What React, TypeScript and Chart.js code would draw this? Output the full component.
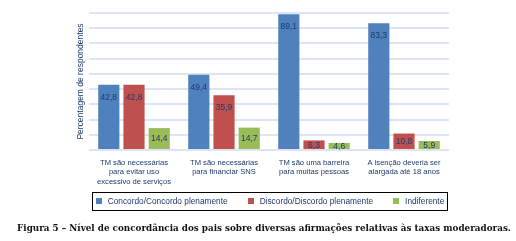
import React, { useEffect, useRef } from "react";
import { Chart, registerables } from "chart.js";

Chart.register(...registerables);

const categories: string[][] = [
  ["TM são necessárias", "para evitar uso", "excessivo de serviços"],
  ["TM são necessárias", "para financiar SNS"],
  ["TM são uma barreira", "para muitas pessoas"],
  ["A isenção deveria ser", "alargada até 18 anos"],
];
const concordo = [42.8, 49.4, 89.1, 83.3];
const discordo = [42.8, 35.9, 6.3, 10.8];
const indiferente = [14.4, 14.7, 4.6, 5.9];
const seriesNames = [
  "Concordo/Concordo plenamente",
  "Discordo/Discordo plenamente",
  "Indiferente",
];
const seriesColors = ["#4f81bd", "#c0504d", "#9bbb59"];
const yTicks = [0, 10, 20, 30, 40, 50, 60, 70, 80, 90];
const yTitle = "Percentagem de respondentes";
const caption =
  "Figura 5 – Nível de concordância dos pais sobre diversas afirmações relativas às taxas moderadoras.";

const NAVY = "#1d3a6c";
const FONT = "Liberation Sans, Arial, sans-serif";

const fmt = (v: number) => v.toFixed(1).replace(".", ",");

const valueLabels = {
  id: "valueLabels",
  afterDatasetsDraw(chart: any) {
    const ctx = chart.ctx;
    ctx.save();
    ctx.font = `8.5px ${FONT}`;
    ctx.fillStyle = NAVY;
    ctx.textAlign = "center";
    ctx.textBaseline = "middle";
    chart.data.datasets.forEach((ds: any, i: number) => {
      const meta = chart.getDatasetMeta(i);
      meta.data.forEach((bar: any, j: number) => {
        const top = bar.y;
        const base = bar.base;
        const y = Math.min(top + 12.5, (top + base) / 2 + 0.5);
        ctx.fillText(fmt(ds.data[j]), bar.x, y);
      });
    });
    ctx.restore();
  },
};

// Boxed legend drawn below the category labels, centred on the plot area
const boxedLegend = {
  id: "boxedLegend",
  afterDraw(chart: any) {
    const ctx = chart.ctx;
    const area = chart.chartArea;
    const fontSize = 8.3;
    const sq = 6;
    const gapText = 6;
    const gapItem = 20;
    ctx.save();
    ctx.font = `${fontSize}px ${FONT}`;
    const widths = seriesNames.map((n) => sq + gapText + ctx.measureText(n).width);
    const total = widths.reduce((a, b) => a + b, 0) + gapItem * (widths.length - 1);
    const cx = (area.left + area.right) / 2 + 1;
    const cy = area.bottom + 51;
    let x = cx - total / 2;
    const boxL = Math.round(x - 4) + 0.5;
    const boxR = Math.round(x + total + 3) + 0.5;
    ctx.strokeStyle = "#000";
    ctx.lineWidth = 1;
    ctx.strokeRect(boxL, Math.round(cy - 9) + 0.5, boxR - boxL, 18);
    ctx.textBaseline = "middle";
    ctx.textAlign = "left";
    seriesNames.forEach((n, i) => {
      ctx.fillStyle = seriesColors[i];
      ctx.fillRect(Math.round(x), Math.round(cy - sq / 2), sq, sq);
      ctx.fillStyle = NAVY;
      ctx.fillText(n, x + sq + gapText, cy + 0.5);
      x += widths[i] + gapItem;
    });
    ctx.restore();
  },
};

export default function App() {
  const ref = useRef<HTMLCanvasElement | null>(null);
  useEffect(() => {
    document.body.style.margin = "0";
    if (!ref.current) return;
    const data = [concordo, discordo, indiferente];
    const chart = new Chart(ref.current, {
      type: "bar",
      data: {
        labels: categories,
        datasets: data.map((d, i) => ({
          label: seriesNames[i],
          data: d,
          backgroundColor: seriesColors[i],
          borderWidth: 0,
          categoryPercentage: 0.84,
          barPercentage: 0.84,
        })),
      },
      options: {
        animation: false,
        responsive: false,
        devicePixelRatio: 1,
        layout: { padding: { top: 13, right: 67, bottom: 51, left: 0 } },
        plugins: {
          legend: { display: false },
          title: { display: false },
          tooltip: { enabled: false },
        },
        scales: {
          x: {
            grid: { display: false, drawTicks: false },
            border: { display: false },
            afterFit: (s: any) => {
              s.height = 40;
            },
            ticks: {
              color: NAVY,
              font: { size: 7.6, family: FONT, lineHeight: 1.25 },
              padding: 8,
              maxRotation: 0,
              autoSkip: false,
            },
          },
          y: {
            min: 0,
            max: 90,
            afterBuildTicks: (s: any) => {
              s.ticks = yTicks.map((v) => ({ value: v }));
            },
            afterFit: (s: any) => {
              s.width = 89;
            },
            grid: { color: "#dde4f3", lineWidth: 2, drawTicks: false },
            border: { display: false },
            ticks: { display: false },
            title: {
              display: true,
              text: yTitle,
              color: NAVY,
              font: { size: 8.5, family: FONT },
              padding: { top: 76, bottom: 0 },
            },
          },
        },
      },
      plugins: [valueLabels, boxedLegend],
    });
    return () => chart.destroy();
  }, []);
  return (
    <div style={{ position: "relative", width: 516, height: 241, background: "#fff" }}>
      <canvas ref={ref} width={516} height={241} style={{ display: "block" }} />
      <div
        style={{
          position: "absolute",
          left: 0,
          width: 528,
          top: 222,
          textAlign: "center",
          fontFamily: "DejaVu Serif, serif",
          fontWeight: "bold",
          fontSize: 8.8,
          lineHeight: "13px",
          color: "#111",
          whiteSpace: "nowrap",
        }}
      >
        {caption}
      </div>
    </div>
  );
}
